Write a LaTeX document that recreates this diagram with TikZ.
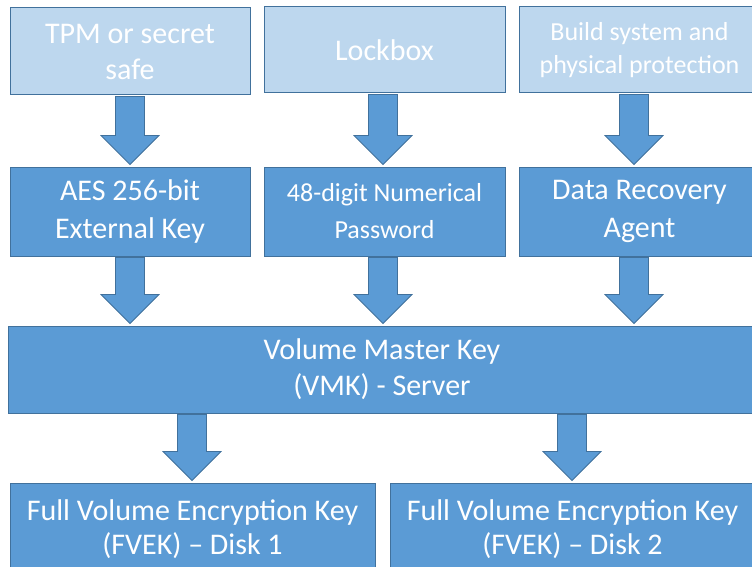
\documentclass[tikz,border=0pt]{standalone}
\usepackage{fontspec}
\setmainfont{Carlito}
\usetikzlibrary{calc}

\definecolor{lightbox}{HTML}{BDD7EE}
\definecolor{darkbox}{HTML}{5B9BD5}
\definecolor{boxedge}{HTML}{41719C}

\tikzset{
  keybox/.style={draw=boxedge, line width=1pt, fill=darkbox, text=white, align=center,
    inner sep=0pt, font=\fontsize{30}{36}\selectfont},
  srcbox/.style={keybox, fill=lightbox},
  blockarr/.style={draw=boxedge, line width=0.8pt, fill=darkbox},
}

% block arrow at x = #1, from node #2 down to node #3
\newcommand{\blockarrow}[3]{%
  \filldraw[blockarr] let \p1=(#1,0 |- #2.south), \p2=(#1,0 |- #3.north) in
    (\x1-14.5pt,\y1-1pt) -- (\x1+14.5pt,\y1-1pt) -- (\x1+14.5pt,\y2+31pt) -- (\x1+29pt,\y2+31pt)
    -- (\x1,\y2+2pt) -- (\x1-29pt,\y2+31pt) -- (\x1-14.5pt,\y2+31pt) -- cycle;}

\begin{document}
\begin{tikzpicture}[x=1pt, y=-1pt]
\useasboundingbox (0,0) rectangle (752,567);
\clip (0,0) rectangle (752,567);

\node [srcbox, minimum width=240pt, minimum height=87pt, name=tpm] at (130,51.5) {TPM or secret\\safe};
\node [srcbox, minimum width=241pt, minimum height=86pt, name=lock] at (384.5,50) {Lockbox};
\node [srcbox, minimum width=241pt, minimum height=86pt, name=build,
  font=\fontsize{26}{33}\selectfont] at (639.5,50) {Build system and\\physical protection};

\node [keybox, minimum width=240pt, minimum height=89pt, name=aes,
  font=\fontsize{30}{38}\selectfont] at (130,211.5) {AES 256-bit\\External Key};
\node [keybox, minimum width=241pt, minimum height=89pt, name=pwd,
  font=\fontsize{26}{37}\selectfont] at (384.5,211.5) {48-digit Numerical\\Password};
\node [keybox, minimum width=241pt, minimum height=89pt, name=dra,
  font=\fontsize{30}{38}\selectfont] at (639.5,211.5) {Data Recovery\\Agent};

\node [keybox, minimum width=748pt, minimum height=87pt, name=vmk] at (382,369.5) {Volume Master Key\\(VMK) - Server};

\node [keybox, minimum width=365pt, minimum height=92pt, name=fvek1,
  font=\fontsize{30}{34}\selectfont] at (192.5,529) {Full Volume Encryption Key\\(FVEK) – Disk 1};
\node [keybox, minimum width=365pt, minimum height=92pt, name=fvek2,
  font=\fontsize{30}{34}\selectfont] at (572.5,529) {Full Volume Encryption Key\\(FVEK) – Disk 2};

\blockarrow{130}{tpm}{aes}
\blockarrow{383}{lock}{pwd}
\blockarrow{634}{build}{dra}
\blockarrow{130}{aes}{vmk}
\blockarrow{383}{pwd}{vmk}
\blockarrow{634}{dra}{vmk}
\blockarrow{192}{vmk}{fvek1}
\blockarrow{572}{vmk}{fvek2}
\end{tikzpicture}
\end{document}
